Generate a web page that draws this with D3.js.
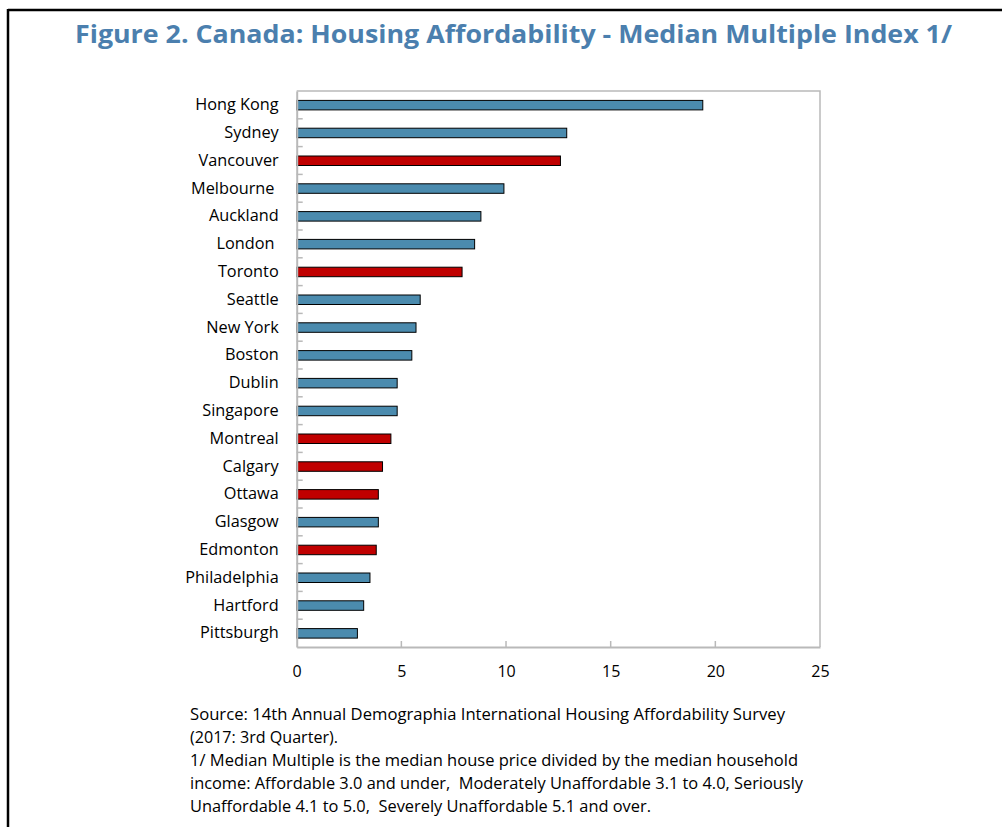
<!DOCTYPE html>
<html>
<head>
<meta charset="utf-8">
<script src="https://cdn.jsdelivr.net/npm/d3@7"></script>
<style>
  html, body { margin: 0; padding: 0; background: #fff; }
  svg { display: block; }
</style>
</head>
<body>
<svg id="chart" width="1002" height="827"></svg>
<script>
const cities = ["Hong Kong","Sydney","Vancouver","Melbourne ","Auckland","London ","Toronto","Seattle","New York","Boston","Dublin","Singapore","Montreal","Calgary","Ottawa","Glasgow","Edmonton","Philadelphia","Hartford","Pittsburgh"];
const values = [19.4,12.9,12.6,9.9,8.8,8.5,7.9,5.9,5.7,5.5,4.8,4.8,4.5,4.1,3.9,3.9,3.8,3.5,3.2,2.9];
const canadian = ["Vancouver","Toronto","Montreal","Calgary","Ottawa","Edmonton"];
const xTicks = [0,5,10,15,20,25];
const titleText = "Figure 2. Canada: Housing Affordability - Median Multiple Index 1/";
const notes = [
  "Source: 14th Annual Demographia International Housing Affordability Survey",
  "(2017: 3rd Quarter).",
  "1/ Median Multiple is the median house price divided by the median household",
  "income: Affordable 3.0 and under,  Moderately Unaffordable 3.1 to 4.0, Seriously",
  "Unaffordable 4.1 to 5.0,  Severely Unaffordable 5.1 and over."
];
const noteWidths = [595, 148, 608, 613, 461];

const svg = d3.select("#chart");
const font = "'Open Sans', 'Noto Sans', sans-serif";
const L = 296.7, R = 820, T = 91, B = 647;
const gray = "#b9b9b9";

// frame
svg.append("line").attr("x1", 8).attr("x2", 1002).attr("y1", 10).attr("y2", 10)
  .attr("stroke", "#000").attr("stroke-width", 2.5);
svg.append("line").attr("x1", 8).attr("x2", 8).attr("y1", 9).attr("y2", 827)
  .attr("stroke", "#000").attr("stroke-width", 2.5);

// title
svg.append("text").attr("x", 75).attr("y", 43)
  .attr("font-family", font).attr("font-weight", 700).attr("font-size", 24.5)
  .attr("fill", "#4B7FAE")
  .attr("textLength", 877).attr("lengthAdjust", "spacingAndGlyphs")
  .text(titleText);

const x = d3.scaleLinear().domain([0, 25]).range([L, R]);
const yb = d3.scaleBand().domain(cities).range([T, B]);

// plot frame (top, right)
svg.append("path").attr("d", `M${L},${T}H${R}V${B}`).attr("fill", "none")
  .attr("stroke", gray).attr("stroke-width", 1.5);

// bars
svg.append("g").selectAll("rect").data(cities).join("rect")
  .attr("x", x(0))
  .attr("y", d => yb(d) + yb.bandwidth() / 2 - 4.5)
  .attr("width", (d, i) => x(values[i]) - x(0))
  .attr("height", 9.5)
  .attr("fill", d => canadian.includes(d.trim()) ? "#C00000" : "#4B8BAE")
  .attr("stroke", "#000").attr("stroke-width", 1);

// y axis
const yAxis = svg.append("g").attr("transform", `translate(${L},0)`)
  .call(d3.axisLeft(yb).tickSize(0).tickPadding(18));
yAxis.select(".domain").attr("stroke", gray).attr("stroke-width", 2);
yAxis.selectAll("text").attr("font-family", font).attr("font-size", 16.3).attr("fill", "#000")
  .style("white-space", "pre");
// inner category separator ticks
svg.append("g").selectAll("line").data(cities.slice(1)).join("line")
  .attr("x1", L).attr("x2", L + 6)
  .attr("y1", d => yb(d)).attr("y2", d => yb(d))
  .attr("stroke", gray).attr("stroke-width", 1.5);

// x axis
const xAxis = svg.append("g").attr("transform", `translate(0,${B})`)
  .call(d3.axisBottom(x).tickValues(xTicks).tickSize(0).tickPadding(19));
xAxis.select(".domain").attr("stroke", gray).attr("stroke-width", 2);
xAxis.selectAll("text").attr("font-family", font).attr("font-size", 16).attr("fill", "#000");
svg.append("g").selectAll("line").data(xTicks.slice(1, -1)).join("line")
  .attr("x1", d => x(d)).attr("x2", d => x(d))
  .attr("y1", B).attr("y2", B - 6)
  .attr("stroke", gray).attr("stroke-width", 1.5);

// notes
svg.append("g").selectAll("text").data(notes).join("text")
  .attr("x", 190).attr("y", (d, i) => 720 + i * 23)
  .attr("font-family", font).attr("font-size", 15.5).attr("fill", "#000")
  .attr("textLength", (d, i) => noteWidths[i]).attr("lengthAdjust", "spacingAndGlyphs")
  .style("white-space", "pre")
  .text(d => d);
</script>
</body>
</html>
